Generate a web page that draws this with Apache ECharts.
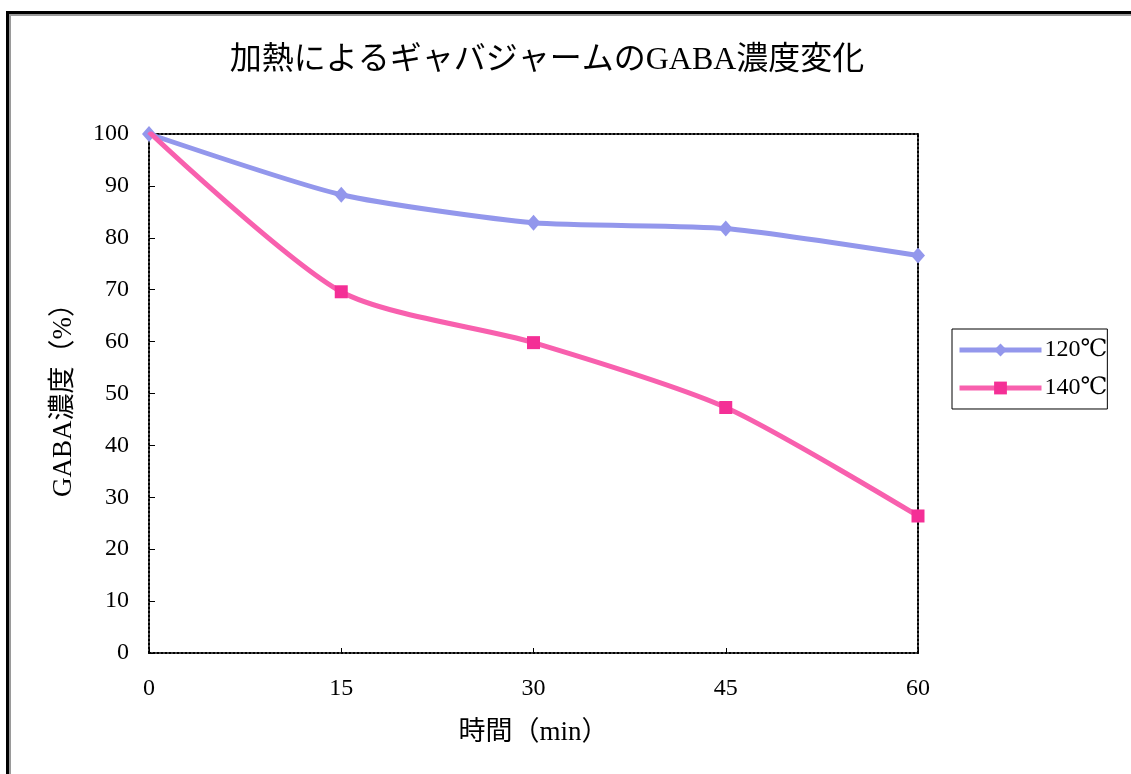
<!DOCTYPE html>
<html>
<head>
<meta charset="utf-8">
<script src="https://cdn.jsdelivr.net/npm/echarts@6/dist/echarts.min.js"></script>
<style>
  html, body { margin: 0; padding: 0; width: 1131px; height: 774px; overflow: hidden; background: #fff; }
  #frame { position: absolute; left: 6px; top: 11px; width: 1300px; height: 900px; border: 3px solid #000; box-shadow: inset 2px 2px 0 #9a9a9a; pointer-events: none; }
  #chart { position: absolute; left: 0; top: 0; width: 1131px; height: 774px; }
</style>
</head>
<body>
<div id="frame"></div>
<div id="chart"></div>
<script>
const chartTitle = '加熱によるギャバジャームのGABA濃度変化';
const xAxisName = '時間（min）';
const yAxisName = 'GABA濃度（%）';
const seriesNames = ['120℃', '140℃'];
const times = [0, 15, 30, 45, 60];
const temp120 = [100, 88.3, 82.9, 81.8, 76.6];
const temp140 = [100.4, 69.6, 59.8, 47.3, 26.4];

const FONT = "'Liberation Serif', 'DejaVu Serif', 'Noto Sans CJK JP', serif";

const chart = echarts.init(document.getElementById('chart'), null, { renderer: 'canvas' });

const dottedLine = { show: true, onZero: false, lineStyle: { color: '#000', width: 2, type: [2, 2] } };

chart.setOption({
  backgroundColor: 'transparent',
  animation: false,
  title: {
    text: chartTitle,
    left: 542,
    top: 40,
    textAlign: 'center',
    textStyle: { fontFamily: FONT, fontSize: 32, fontWeight: 'normal', color: '#000' }
  },
  legend: {
    orient: 'vertical',
    left: 952,
    top: 329,
    padding: [9, 0, 9, 5],
    itemGap: 14,
    itemWidth: 82,
    itemHeight: 16,
    borderColor: '#000',
    borderWidth: 1,
    lineStyle: { width: 5 },
    textStyle: { fontFamily: FONT, fontSize: 24, color: '#000', padding: [6, 0, 0, -2] },
    data: seriesNames
  },
  grid: { left: 149, top: 134, right: 213, bottom: 121, containLabel: false },
  xAxis: [{
    type: 'value',
    min: 0, max: 60, interval: 15,
    name: xAxisName,
    nameLocation: 'middle',
    nameGap: 66,
    nameTextStyle: { fontFamily: FONT, fontSize: 27, color: '#000' },
    axisLine: dottedLine,
    axisTick: { show: true, inside: true, length: 5, lineStyle: { color: '#000', width: 1 } },
    axisLabel: { fontFamily: FONT, fontSize: 24, color: '#000', margin: 24 },
    splitLine: { show: false }
  }, {
    type: 'value', position: 'top', min: 0, max: 60,
    axisLine: dottedLine, axisTick: { show: false }, axisLabel: { show: false }, splitLine: { show: false }
  }],
  yAxis: [{
    type: 'value',
    min: 0, max: 100, interval: 10,
    name: yAxisName,
    nameLocation: 'middle',
    nameRotate: 90,
    nameGap: 72,
    nameTextStyle: { fontFamily: FONT, fontSize: 27, color: '#000' },
    axisLine: dottedLine,
    axisTick: { show: true, inside: true, length: 6, lineStyle: { color: '#000', width: 1 } },
    axisLabel: { fontFamily: FONT, fontSize: 24, color: '#000', margin: 20 },
    splitLine: { show: false }
  }, {
    type: 'value', position: 'right', min: 0, max: 100,
    axisLine: dottedLine, axisTick: { show: false }, axisLabel: { show: false }, splitLine: { show: false }
  }],
  series: [{
    name: seriesNames[0],
    type: 'line',
    smooth: 0.2,
    data: times.map((t, i) => [t, temp120[i]]),
    symbol: 'diamond',
    symbolSize: [14, 16],
    lineStyle: { color: '#9397ec', width: 5 },
    itemStyle: { color: '#9397ec' },
    z: 2
  }, {
    name: seriesNames[1],
    type: 'line',
    smooth: 0.25,
    data: times.map((t, i) => [t, temp140[i]]),
    symbol: 'rect',
    symbolSize: 13,
    lineStyle: { color: '#f860ae', width: 5 },
    itemStyle: { color: '#f42f96' },
    z: 3
  }]
});
</script>
</body>
</html>
